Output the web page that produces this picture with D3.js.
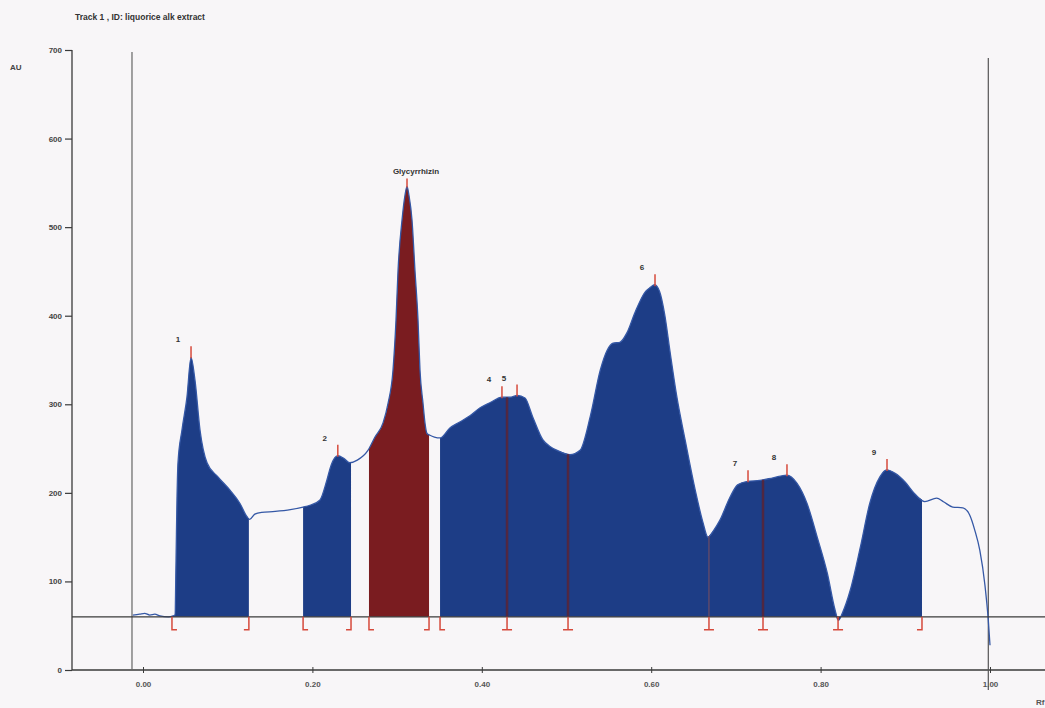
<!DOCTYPE html>
<html>
<head>
<meta charset="utf-8">
<script src="https://cdn.jsdelivr.net/npm/d3@7"></script>
<style>
  body { margin: 0; background: #f8f6f8; }
  svg { display: block; }
  text { font-family: "Liberation Sans", Arial, sans-serif; }
</style>
</head>
<body>
<svg id="chart" width="1045" height="708"></svg>
<script>
// Densitogram trace: Rf position and absorbance (AU)
const rf = [-0.012, -0.004, 0.002, 0.008, 0.014, 0.020, 0.030, 0.0354, 0.0378, 0.0390, 0.0401, 0.0413, 0.0460,
  0.0519, 0.0567, 0.0614, 0.0673, 0.0756, 0.0885, 0.1027, 0.1145, 0.1228, 0.126, 0.132, 0.140,
  0.156, 0.174, 0.189, 0.197, 0.209, 0.217, 0.222, 0.230, 0.237, 0.244, 0.253, 0.2656, 0.2739, 0.2834, 0.2893,
  0.2952, 0.2987, 0.3011, 0.3058, 0.3093, 0.3117, 0.3140, 0.3176, 0.3211, 0.3247, 0.3270, 0.3306, 0.3329, 0.3353,
  0.3388, 0.344, 0.351, 0.362,
  0.374, 0.386, 0.398, 0.410, 0.424, 0.433, 0.442, 0.451, 0.460, 0.472, 0.481, 0.489, 0.504, 0.516, 0.528,
  0.540, 0.548, 0.555, 0.563, 0.571, 0.581, 0.593, 0.599, 0.604, 0.610, 0.616, 0.622, 0.630, 0.640, 0.652,
  0.661, 0.667, 0.674, 0.681, 0.693, 0.702, 0.714, 0.728, 0.744, 0.760, 0.772, 0.784, 0.796, 0.808, 0.817,
  0.821, 0.826, 0.835, 0.847, 0.858, 0.870, 0.878, 0.888, 0.900, 0.911, 0.923, 0.937, 0.945, 0.956, 0.968,
  0.976, 0.982, 0.988, 0.994, 0.998, 1.000];
const au = [62, 63, 64, 62, 63, 61, 60, 61, 62, 124, 192, 234, 271,
  308, 353, 327, 271, 234, 218, 203, 188, 173, 170, 176, 178,
  179, 181, 184, 186, 192, 214, 231, 242, 239, 234, 237, 248, 263, 279, 301,
  339, 395, 451, 508, 536, 546, 536, 508, 451, 395, 339, 301, 279, 267,
  265, 263, 262, 273,
  280, 287, 296, 302, 308, 308, 310, 307, 286, 260, 252, 248, 243, 248, 286,
  339, 361, 369, 370, 380, 404, 427, 432, 435, 427, 401, 361, 310, 260, 203,
  167, 150, 158, 169, 195, 209, 213, 214, 217, 220, 211, 188, 150, 109, 68,
  56, 65, 90, 139, 188, 218, 226, 222, 212, 199, 190, 194, 190, 184, 183,
  175, 158, 135, 96, 56, 28];

const baselineAU = 60;

// Integrated peaks
const peakNames = ["1", "2", "Glycyrrhizin", "4", "5", "6", "7", "8", "9"];
const peakRf    = [0.0567, 0.230, 0.3117, 0.4238, 0.4416, 0.6045, 0.7143, 0.7603, 0.8784];
const peakStart = [0.0342, 0.189, 0.2668, 0.3507, 0.4298, 0.5018, 0.6682, 0.7320, 0.8206];
const peakEnd   = [0.1250, 0.2456, 0.3377, 0.4298, 0.5018, 0.6682, 0.7320, 0.8206, 0.9197];
const peakIsTarget = [false, false, true, false, false, false, false, false, false];

const yTicks = [0, 100, 200, 300, 400, 500, 600, 700];
const xTicks = [0, 0.2, 0.4, 0.6, 0.8, 1.0];
const xTickLabels = ["0.00", "0.20", "0.40", "0.60", "0.80", "1.00"];

const titleText = "Track  1 , ID: liquorice alk extract";

const svg = d3.select("#chart");
const x = d3.scaleLinear().domain([0, 1]).range([143, 990]);
const y = d3.scaleLinear().domain([0, 700]).range([670, 50]);

const colBlue = "#1d3d86", colRed = "#7a1c20", colMark = "#d64a3c", colAxis = "#3a3a3a";

const pts = rf.map((r, i) => [r, au[i]]);
const valueAt = r => {
  for (let i = 1; i < rf.length; i++) {
    if (r <= rf[i]) {
      const t = (r - rf[i - 1]) / (rf[i] - rf[i - 1]);
      return au[i - 1] + t * (au[i] - au[i - 1]);
    }
  }
  return au[au.length - 1];
};

// title and unit
svg.append("text").attr("x", 75).attr("y", 20).attr("font-size", 8.5).attr("font-weight", "bold")
  .attr("fill", "#333").text(titleText);
svg.append("text").attr("x", 10).attr("y", 70).attr("font-size", 8).attr("font-weight", "bold")
  .attr("fill", "#444").text("AU");

// y axis
const yAxis = d3.axisLeft(y).tickValues(yTicks).tickSize(7).tickPadding(3).tickFormat(d3.format("d"));
const gy = svg.append("g").attr("transform", "translate(72,0)").call(yAxis);
gy.select(".domain").attr("stroke", colAxis).attr("stroke-width", 1.3).attr("d", "M0,50V670");
gy.selectAll(".tick line").attr("stroke", colAxis).attr("stroke-width", 1.2);
gy.selectAll(".tick text").attr("font-size", 8).attr("font-weight", "bold").attr("fill", "#444")
  .attr("font-family", "Liberation Sans, Arial, sans-serif");

// x axis
const xAxis = d3.axisBottom(x).tickValues(xTicks).tickSize(4).tickPadding(7)
  .tickFormat((d, i) => xTickLabels[i]);
const gx = svg.append("g").attr("transform", "translate(0,670)").call(xAxis);
gx.select(".domain").attr("stroke", colAxis).attr("stroke-width", 1.3).attr("d", "M72,0H1045");
gx.selectAll(".tick line").attr("stroke", colAxis).attr("y1", -3).attr("y2", 3);
gx.selectAll(".tick text").attr("font-size", 8).attr("font-weight", "bold").attr("fill", "#555")
  .attr("font-family", "Liberation Sans, Arial, sans-serif");
svg.append("text").attr("x", 1036).attr("y", 705).attr("font-size", 8).attr("font-weight", "bold")
  .attr("fill", "#555").text("Rf");

// start and front lines
svg.append("line").attr("x1", x(-0.013)).attr("x2", x(-0.013)).attr("y1", 52).attr("y2", 670)
  .attr("stroke", "#666").attr("stroke-width", 1.2);
svg.append("line").attr("x1", x(0.998)).attr("x2", x(0.998)).attr("y1", 58).attr("y2", 690)
  .attr("stroke", "#555").attr("stroke-width", 1.2);

// peak areas
const area = d3.area().x(d => x(d[0])).y0(y(baselineAU)).y1(d => y(d[1])).curve(d3.curveMonotoneX);
peakNames.forEach((name, i) => {
  const s = peakStart[i], e = peakEnd[i];
  const seg = [[s, valueAt(s)], ...pts.filter(p => p[0] > s && p[0] < e), [e, valueAt(e)]];
  svg.append("path").datum(seg).attr("d", area)
    .attr("fill", peakIsTarget[i] ? colRed : colBlue).attr("stroke", "none");
});

// trace line
const line = d3.line().x(d => x(d[0])).y(d => y(d[1])).curve(d3.curveMonotoneX);
svg.append("path").datum(pts).attr("d", line).attr("fill", "none")
  .attr("stroke", "#3558a6").attr("stroke-width", 1.3);

// boundaries shared by adjacent peaks (valley drop at 0.668 is drawn lighter)
const shared = peakEnd.filter(e => peakStart.includes(e));
shared.forEach(b => {
  const light = Math.abs(b - 0.6682) < 1e-6;
  svg.append("line").attr("x1", x(b)).attr("x2", x(b))
    .attr("y1", y(baselineAU)).attr("y2", y(valueAt(b)))
    .attr("stroke", light ? "#6a4a66" : "#5a2436")
    .attr("stroke-width", light ? 1.5 : 2.5).attr("opacity", 0.85);
});

// baseline
svg.append("line").attr("x1", 72).attr("x2", 1045).attr("y1", y(baselineAU)).attr("y2", y(baselineAU))
  .attr("stroke", "#3a3a3a").attr("stroke-width", 1.3);

// boundary markers below baseline
const bY = y(baselineAU);
const bounds = Array.from(new Set([...peakStart, ...peakEnd])).sort((a, b) => a - b);
bounds.forEach(b => {
  const isS = peakStart.includes(b), isE = peakEnd.includes(b);
  const bx = x(b);
  let d = `M${bx},${bY}V${bY + 13}`;
  if (isS && isE) d += `M${bx - 5},${bY + 13}H${bx + 5}`;
  else if (isS) d += `H${bx + 5}`;
  else d += `H${bx - 5}`;
  svg.append("path").attr("d", d).attr("fill", "none").attr("stroke", colMark).attr("stroke-width", 1.5);
});

// peak apex markers and labels
peakNames.forEach((name, i) => {
  const px = x(peakRf[i]), top = y(valueAt(peakRf[i]));
  const len = peakIsTarget[i] ? 8 : 11;
  svg.append("line").attr("x1", px).attr("x2", px).attr("y1", top + 1).attr("y2", top - len)
    .attr("stroke", colMark).attr("stroke-width", 1.5);
  const t = svg.append("text").attr("font-size", 8).attr("font-weight", "bold").attr("fill", "#333").text(name);
  if (peakIsTarget[i]) t.attr("x", px + 9).attr("y", top - 12).attr("text-anchor", "middle");
  else t.attr("x", px - 13).attr("y", top - 15).attr("text-anchor", "middle");
});
</script>
</body>
</html>
